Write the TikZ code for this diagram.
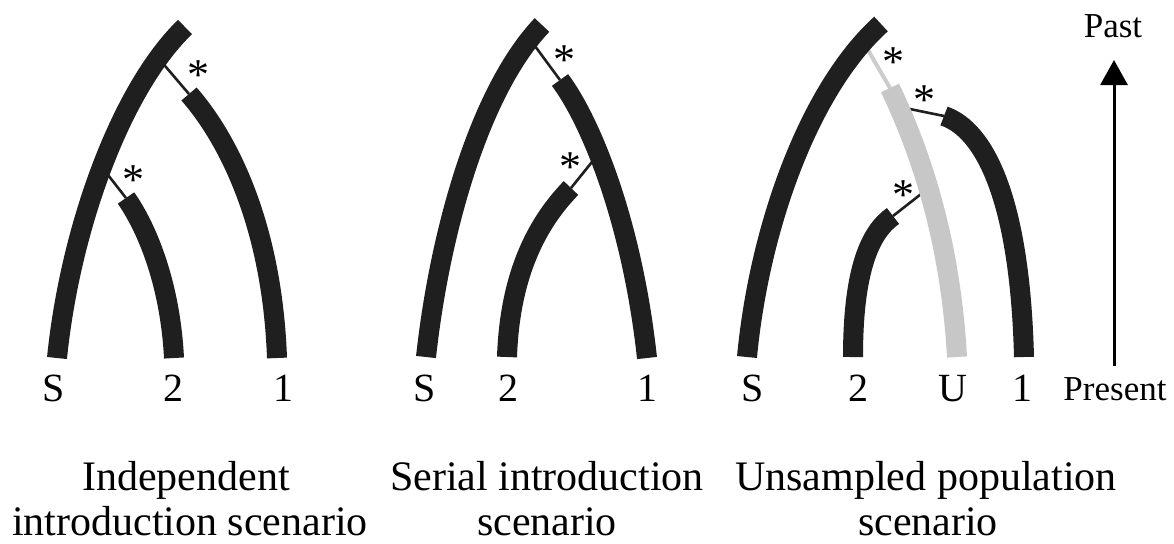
\documentclass[tikz,border=0pt]{standalone}
\usepackage{fontspec}
\setmainfont{Liberation Serif}
\usetikzlibrary{arrows.meta}
\begin{document}
\begin{tikzpicture}[x=0.5pt,y=-0.5pt,
  branch/.style={line width=10pt, draw=black!88},
  ubranch/.style={line width=10pt, draw=black!22},
  link/.style={line width=1.3pt, draw=black!88},
  ulink/.style={line width=2pt, draw=black!20},
  star/.style={font=\fontsize{22pt}{22pt}\selectfont, anchor=base, inner sep=0pt},
  leaf/.style={font=\fontsize{20pt}{20pt}\selectfont, anchor=base, inner sep=0pt},
  captext/.style={font=\fontsize{21pt}{21pt}\selectfont, anchor=base, inner sep=0pt},
  axislabel/.style={font=\fontsize{17.5pt}{17.5pt}\selectfont, anchor=base, inner sep=0pt}]
\useasboundingbox (0,0) rectangle (1174,543);

% ---------- Panel 1: independent ----------
\coordinate (aSb) at (57,358);  \coordinate (aSt) at (185,27);
\coordinate (a1t) at (189,94);  \coordinate (a1b) at (277,358);
\coordinate (a2t) at (126,198); \coordinate (a2b) at (174,358);
\coordinate (aL1) at (160,60);  \coordinate (aL2) at (101,166);
\draw[link] (aL1) -- (a1t);
\draw[link] (aL2) -- (a2t);
\draw[branch] (aSb) .. controls (70,230) and (120,90) .. (aSt);
\draw[branch] (a1t) .. controls (225,135) and (272,220) .. (a1b);
\draw[branch] (a2t) .. controls (145,225) and (170,280) .. (a2b);
\node[star] (as1) at (198,89) {*};
\node[star] (as2) at (133,194) {*};
\node[leaf] (aS) at (54,401) {S};
\node[leaf] (a2) at (173,401) {2};
\node[leaf] (a1) at (283,401) {1};
\node[captext] (ac1) at (186,490) {Independent};
\node[captext] (ac2) at (190,535) {introduction scenario};

% ---------- Panel 2: serial ----------
\coordinate (bSb) at (426,357); \coordinate (bSt) at (542,25);
\coordinate (b1t) at (560,80);  \coordinate (b1b) at (647,358);
\coordinate (b2t) at (571,188); \coordinate (b2b) at (507,357);
\coordinate (bL1) at (532,42);  \coordinate (bL2) at (600,152);
\draw[link] (bL1) -- (b1t);
\draw[link] (bL2) -- (b2t);
\draw[branch] (bSb) .. controls (440,230) and (480,90) .. (bSt);
\draw[branch] (b1t) .. controls (590,120) and (632,220) .. (b1b);
\draw[branch] (b2t) .. controls (540,220) and (510,270) .. (b2b);
\node[star] (bs1) at (564,74) {*};
\node[star] (bs2) at (570,181) {*};
\node[leaf] (bS) at (425,401) {S};
\node[leaf] (b2) at (508,401) {2};
\node[leaf] (b1) at (647,401) {1};
\node[captext] (bc1) at (547,490) {Serial introduction};
\node[captext] (bc2) at (547,535) {scenario};

% ---------- Panel 3: unsampled ----------
\coordinate (cSb) at (747,357); \coordinate (cSt) at (881,24);
\coordinate (cUt) at (890,88);  \coordinate (cUb) at (957,357);
\coordinate (c1t) at (944,116); \coordinate (c1b) at (1024,357);
\coordinate (c2t) at (893,216); \coordinate (c2b) at (853,357);
\coordinate (cLU) at (868,50);  \coordinate (cL1) at (905,108);
\coordinate (cL2) at (930,187);
\draw[ulink] (cLU) -- (cUt);
\draw[link] (cL1) -- (c1t);
\draw[link] (cL2) -- (c2t);
\draw[branch] (cSb) .. controls (759,230) and (808,90) .. (cSt);
\draw[ubranch] (cUt) .. controls (915,140) and (950,230) .. (cUb);
\draw[branch] (c1t) .. controls (985,130) and (1020,200) .. (c1b);
\draw[branch] (c2t) .. controls (870,232) and (853,270) .. (c2b);
\node[star] (cs1) at (893,76) {*};
\node[star] (cs2) at (924,114) {*};
\node[star] (cs3) at (903,209) {*};
\node[leaf] (cS) at (753,401) {S};
\node[leaf] (c2) at (858,401) {2};
\node[leaf] (cU) at (953,401) {U};
\node[leaf] (c1) at (1022,401) {1};
\node[captext] (cc1) at (926,490) {Unsampled population};
\node[captext] (cc2) at (928,535) {scenario};

% ---------- time axis ----------
\node[axislabel] (past) at (1113,37) {Past};
\node[axislabel] (present) at (1115,400) {Present};
\coordinate (arB) at (1114,366);
\coordinate (arT) at (1114,60);
\draw[line width=1.5pt, -{Triangle[width=13.5pt,length=12.5pt]}] (arB) -- (arT);
\end{tikzpicture}
\end{document}
